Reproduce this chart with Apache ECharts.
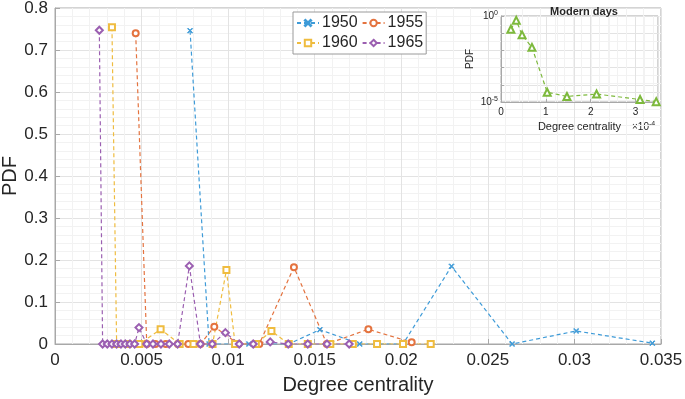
<!DOCTYPE html>
<html>
<head>
<meta charset="utf-8">
<script src="https://cdn.jsdelivr.net/npm/echarts@6/dist/echarts.min.js"></script>
<style>
  html, body { margin: 0; padding: 0; background: #fff; }
  #chart { width: 685px; height: 399px; }
</style>
</head>
<body>
<div id="chart"></div>
<script>
// 各年份的度中心性分布
var x1950 = [0.0078, 0.0089, 0.0112, 0.0135, 0.0153, 0.0176, 0.0201, 0.0229, 0.0264, 0.0301, 0.0345];
var y1950 = [0.746, 0, 0, 0, 0.034, 0, 0, 0.185, 0, 0.031, 0.002];

var x1955 = [0.00466, 0.0053, 0.0058, 0.0064, 0.0071, 0.0077, 0.0084, 0.0092, 0.0106, 0.0118, 0.0138, 0.0157, 0.0181, 0.0206];
var y1955 = [0.740, 0, 0, 0, 0, 0, 0, 0.041, 0, 0, 0.183, 0, 0.035, 0.004];

var x1960 = [0.00329, 0.00356, 0.0042, 0.00487, 0.0061, 0.0072, 0.0080, 0.0091, 0.0099, 0.0104, 0.0116, 0.0125, 0.0135, 0.0146, 0.0159, 0.0172, 0.0186, 0.0201, 0.0217];
var y1960 = [0.754, 0, 0, 0, 0.035, 0, 0, 0, 0.176, 0, 0, 0.031, 0, 0, 0, 0, 0, 0, 0];

var x1965 = [0.00256, 0.00275, 0.00302, 0.00329, 0.00356, 0.00381, 0.00406, 0.00433, 0.0046, 0.00485, 0.0053, 0.00566, 0.00612, 0.0066, 0.00708, 0.00776, 0.0084, 0.00908, 0.00984, 0.01064, 0.01145, 0.01243, 0.01347, 0.0146, 0.01571, 0.01699];
var y1965 = [0.747, 0, 0, 0, 0, 0, 0, 0, 0, 0.039, 0, 0, 0, 0, 0, 0.186, 0, 0, 0.027, 0, 0, 0.005, 0, 0, 0, 0];

// 小图：现代
var xModern = [0.22e-4, 0.34e-4, 0.47e-4, 0.69e-4, 1.03e-4, 1.47e-4, 2.13e-4, 3.10e-4, 3.46e-4];
var yModern = [0.17, 0.56, 0.08, 0.015, 3.7e-5, 2.1e-5, 2.9e-5, 1.4e-5, 1.05e-5];

var xTicks = [0, 0.005, 0.01, 0.015, 0.02, 0.025, 0.03, 0.035];
var yTicks = [0, 0.1, 0.2, 0.3, 0.4, 0.5, 0.6, 0.7, 0.8];

function pairs(xs, ys) {
  return xs.map(function (x, i) { return [x, ys[i]]; });
}

var FONT = 'Liberation Sans, Arial, sans-serif';
var TXT = '#262626';
var AX = '#a8a8a8';
var xMark = 'path://M0,1L1,0L5,4L9,0L10,1L6,5L10,9L9,10L5,6L1,10L0,9L4,5Z';

function lineSeries(name, xs, ys, color, symbol, size) {
  return {
    name: name,
    type: 'line',
    data: pairs(xs, ys),
    symbol: symbol,
    symbolSize: size,
    showAllSymbol: true,
    lineStyle: { color: color, width: 1.2, type: [4, 3] },
    itemStyle: { color: color, borderColor: color, borderWidth: 1 },
    emphasis: { disabled: true }
  };
}

var chart = echarts.init(document.getElementById('chart'));

var option = {
  backgroundColor: '#fff',
  animation: false,
  textStyle: { fontFamily: FONT },
  grid: [
    { left: 55, right: 24, top: 8, bottom: 55, containLabel: false, outerBoundsMode: 'none',
      show: true, borderColor: AX, borderWidth: 1 },
    { left: 501, right: 27, top: 16, bottom: 297, containLabel: false, outerBoundsMode: 'none',
      show: true, backgroundColor: '#fff', borderColor: AX, borderWidth: 1 }
  ],
  title: {
    text: 'Modern days',
    left: 579, top: 1, textAlign: 'center',
    textStyle: { fontSize: 11, fontWeight: 'bold', color: TXT, fontFamily: FONT }
  },
  legend: {
    data: ['1950', '1955', '1960', '1965'],
    left: 293, top: 12,
    width: 136,
    padding: [3, 3, 3, 3],
    itemGap: 4,
    itemWidth: 22,
    itemHeight: 8,
    borderColor: '#9a9a9a',
    borderWidth: 1,
    backgroundColor: '#fff',
    textStyle: { fontSize: 16, color: TXT, fontFamily: FONT, padding: [0, 0, 0, -2] }
  },
  xAxis: [
    {
      gridIndex: 0, type: 'value', min: xTicks[0], max: xTicks[xTicks.length - 1], interval: 0.005,
      name: 'Degree centrality', nameLocation: 'middle', nameGap: 31, nameMoveOverlap: false,
      nameTextStyle: { fontSize: 20, color: TXT, fontFamily: FONT },
      axisLine: { lineStyle: { color: AX } },
      axisTick: { inside: true, length: 5, lineStyle: { color: AX } },
      axisLabel: {
        fontSize: 17, color: TXT, margin: 8,
        formatter: function (v) { return v === 0 ? '0' : String(+v.toFixed(3)); }
      },
      splitLine: { show: true, lineStyle: { color: '#e3e3e3' } },
      minorTick: { show: false, splitNumber: 5 },
      minorSplitLine: { show: true, lineStyle: { color: '#f2f2f2' } }
    },
    {
      gridIndex: 1, type: 'value', min: 0, max: 3.5e-4, interval: 1e-4,
      name: 'Degree centrality', nameLocation: 'middle', nameGap: 19, nameMoveOverlap: false,
      nameTextStyle: { fontSize: 11, color: TXT, fontFamily: FONT },
      axisLine: { lineStyle: { color: AX } },
      axisTick: { inside: true, length: 3, lineStyle: { color: AX } },
      axisLabel: {
        fontSize: 10, color: TXT, margin: 5, showMaxLabel: false,
        formatter: function (v) {
          var k = v * 1e4;
          return Math.abs(k - Math.round(k)) < 1e-6 ? String(Math.round(k)) : '';
        }
      },
      splitLine: { show: true, lineStyle: { color: '#e3e3e3' } },
      minorTick: { show: false, splitNumber: 5 },
      minorSplitLine: { show: true, lineStyle: { color: '#f2f2f2' } }
    }
  ],
  yAxis: [
    {
      gridIndex: 0, type: 'value', min: yTicks[0], max: yTicks[yTicks.length - 1], interval: 0.1,
      name: 'PDF', nameLocation: 'middle', nameGap: 35, nameMoveOverlap: false,
      nameTextStyle: { fontSize: 20, color: TXT, fontFamily: FONT },
      axisLine: { show: true, lineStyle: { color: AX } },
      axisTick: { show: true, inside: true, length: 5, lineStyle: { color: AX } },
      axisLabel: {
        fontSize: 17, color: TXT, margin: 7,
        formatter: function (v) { return String(+v.toFixed(1)); }
      },
      splitLine: { show: true, lineStyle: { color: '#e3e3e3' } },
      minorTick: { show: false, splitNumber: 5 },
      minorSplitLine: { show: true, lineStyle: { color: '#f2f2f2' } }
    },
    {
      gridIndex: 1, type: 'log', logBase: 10, min: 1e-5, max: 1,
      name: 'PDF', nameLocation: 'middle', nameGap: 26, nameMoveOverlap: false,
      nameTextStyle: { fontSize: 10, color: TXT, fontFamily: FONT },
      axisLine: { show: true, lineStyle: { color: AX } },
      axisTick: { show: true, inside: true, length: 3, lineStyle: { color: AX } },
      axisLabel: {
        color: TXT, margin: 3,
        formatter: function (v) {
          if (Math.abs(v - 1) < 1e-9) return '{b|10}{s|0}';
          if (Math.abs(v - 1e-5) < 1e-12) return '{b|10}{s|-5}';
          return '';
        },
        rich: {
          b: { fontSize: 10, color: TXT, fontFamily: FONT },
          s: { fontSize: 7, color: TXT, fontFamily: FONT, padding: [0, 0, 6, 0] }
        }
      },
      splitLine: { show: true, lineStyle: { color: '#e3e3e3' } }
    }
  ],
  graphic: [
    {
      type: 'text', left: 632, top: 121,
      style: {
        text: '{m|×10}{e|-4}',
        rich: {
          m: { fontSize: 10, fill: TXT, fontFamily: FONT },
          e: { fontSize: 7, fill: TXT, fontFamily: FONT, padding: [0, 0, 6, 0] }
        }
      }
    }
  ],
  series: [
    lineSeries('1950', x1950, y1950, '#3e9bd8', xMark, 5),
    lineSeries('1955', x1955, y1955, '#e4733f', 'emptyCircle', 6),
    lineSeries('1960', x1960, y1960, '#efbc3f', 'emptyRect', 6),
    lineSeries('1965', x1965, y1965, '#9b5fb1', 'emptyDiamond', 7),
    {
      name: 'Modern',
      type: 'line',
      xAxisIndex: 1, yAxisIndex: 1,
      data: pairs(xModern, yModern),
      symbol: 'emptyTriangle', symbolSize: 7,
      lineStyle: { color: '#7db93c', width: 1.2, type: [4, 3] },
      itemStyle: { color: '#7db93c', borderColor: '#7db93c' },
      emphasis: { disabled: true }
    }
  ]
};

option && chart.setOption(option);
</script>
</body>
</html>
